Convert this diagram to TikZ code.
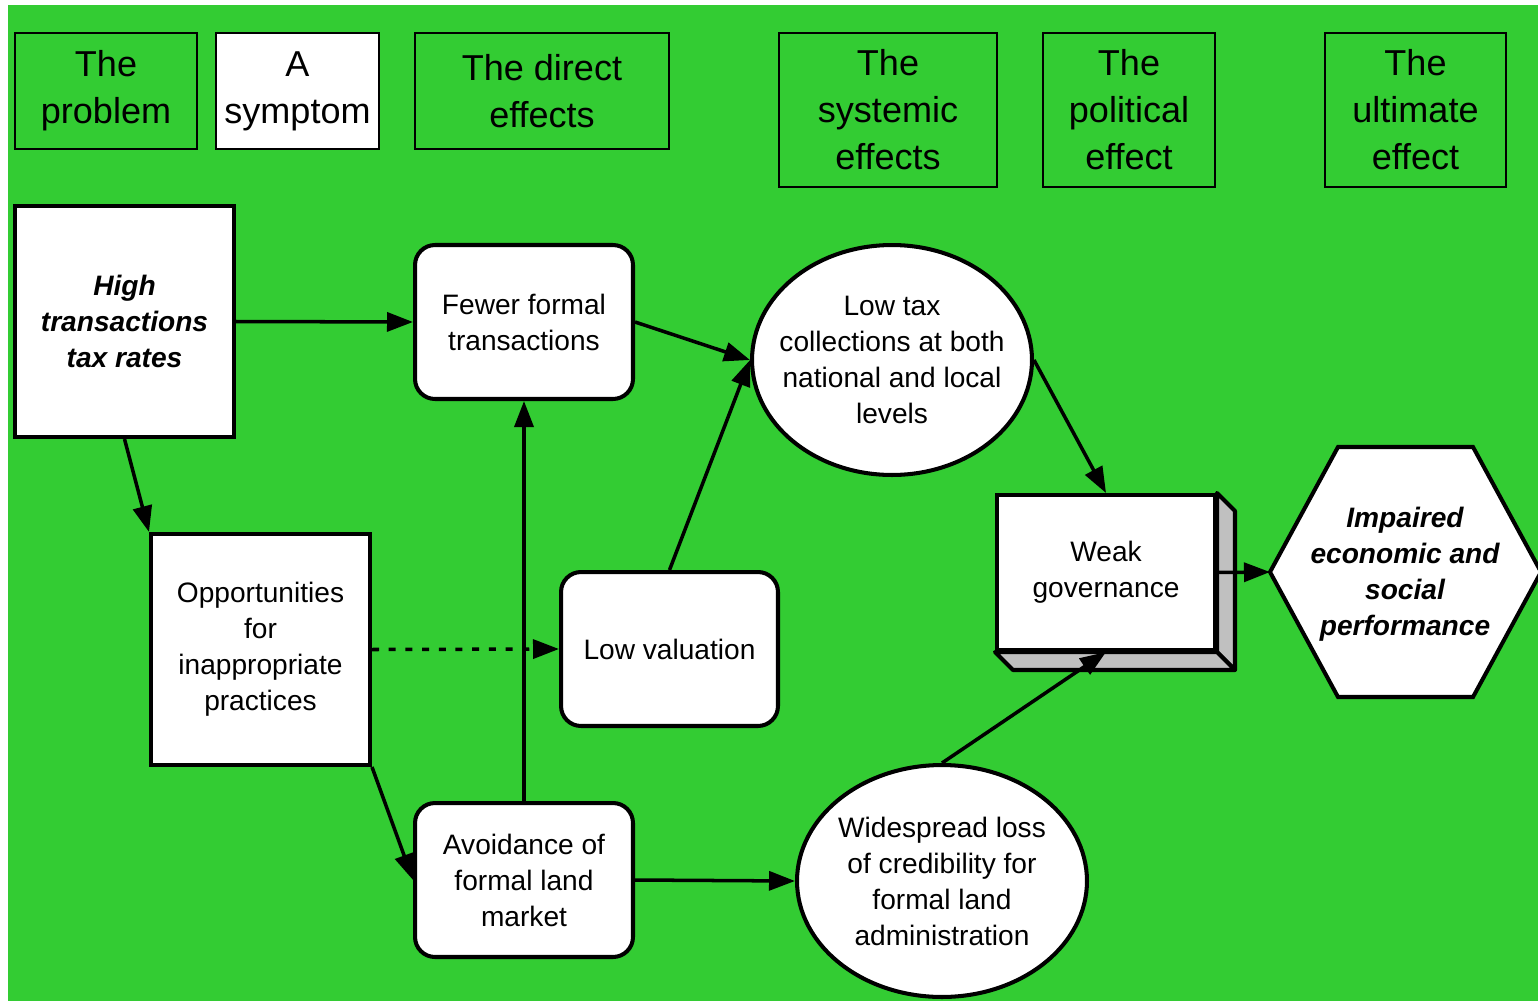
\documentclass[tikz,border=0pt]{standalone}
\usepackage{fontspec}
\setmainfont{Liberation Sans}
\usetikzlibrary{arrows.meta, shapes.geometric, calc}
\definecolor{FieldGreen}{RGB}{51,204,51}
\definecolor{SideGray}{RGB}{192,192,192}
\tikzstyle{arrow} = [line width=2pt, black, -{Triangle[length=0.52cm, width=0.38cm]}]
\tikzstyle{heading} = [rectangle, draw=black, line width=0.7pt, fill=FieldGreen, inner sep=0pt, align=center, font=\fontsize{20.5}{26.7}\selectfont]
\tikzset{
  factor/.style={rectangle, draw=black, line width=2.3pt, fill=white, inner sep=0pt, align=center, font=\fontsize{16}{20.5}\selectfont},
  effect/.style={factor, rounded corners=0.4cm},
  outcome/.style={factor, ellipse, inner xsep=-0.4cm, inner ysep=0pt},
  keytext/.style={font={\fontsize{16}{20.5}\selectfont\bfseries\itshape}},
  sideface/.style={draw=black, line width=2.3pt, fill=SideGray, line join=round}
}

\begin{document}
\begin{tikzpicture}[x=0.02cm, y=-0.02cm]
  \useasboundingbox (0,0) rectangle (1538,1001);
  \fill[FieldGreen] (8,5) rectangle (1538,1001);

  % Column headings
  \node[heading, minimum width=3.64cm, minimum height=2.32cm] (hproblem) at (106,91) {The\\problem};
  \node[heading, fill=white, minimum width=3.26cm, minimum height=2.32cm] (hsymptom) at (297.5,91) {A\\symptom};
  \node[heading, minimum width=5.08cm, minimum height=2.32cm] (hdirect) at (542,91) {The direct\\effects};
  \node[heading, minimum width=4.36cm, minimum height=3.08cm] (hsystemic) at (888,110) {The\\systemic\\effects};
  \node[heading, minimum width=3.44cm, minimum height=3.08cm] (hpolitical) at (1129,110) {The\\political\\effect};
  \node[heading, minimum width=3.62cm, minimum height=3.08cm] (hultimate) at (1415.5,110) {The\\ultimate\\effect};

  % Causes
  \node[factor, keytext, minimum width=4.38cm, minimum height=4.62cm] (high) at (124.5,321.5) {High\\transactions\\tax rates};
  \node[factor, minimum width=4.38cm, minimum height=4.62cm] (opp) at (260.5,649.5) {Opportunities\\for\\inappropriate\\practices};

  % Direct effects
  \node[effect, minimum width=4.36cm, minimum height=3.08cm] (fewer) at (524,322) {Fewer formal\\transactions};
  \node[effect, minimum width=4.34cm, minimum height=3.08cm] (lowval) at (669.5,649) {Low valuation};
  \node[effect, minimum width=4.36cm, minimum height=3.08cm] (avoid) at (524,880) {Avoidance of\\formal land\\market};

  % Systemic effects
  \node[outcome, minimum width=5.6cm, minimum height=4.6cm] (lowtax) at (892,360) {Low tax\\collections at both\\national and local\\levels};
  \node[outcome, minimum width=5.8cm, minimum height=4.64cm] (loss) at (942,881) {Widespread loss\\of credibility for\\formal land\\administration};

  % Political effect (raised box)
  \node[factor, minimum width=4.36cm, minimum height=3.1cm] (weak) at (1106,572.5) {Weak\\governance};
  \draw[sideface] (weak.north east) -- ++(18,18) -- ([shift={(18,18)}]weak.south east) -- (weak.south east) -- cycle;
  \draw[sideface] (weak.south west) -- ++(18,18) -- ([shift={(18,18)}]weak.south east) -- (weak.south east) -- cycle;

  % Ultimate effect
  \coordinate (impairedW) at (1270,572);
  \draw[line width=2.3pt, fill=white] (impairedW) -- (1338,447) -- (1473,447) -- (1541,572) -- (1473,697) -- (1338,697) -- cycle;
  \node[keytext, align=center] (impaired) at (1405,574) {Impaired\\economic and\\social\\performance};

  % Arrows
  \draw[arrow] (high.east) -- (fewer.west);
  \draw[arrow] (high.south) -- (opp.north west);
  \draw[arrow, dash pattern=on 4pt off 5.5pt] (opp.east) -- (lowval.west);
  \draw[arrow] (opp.south east) -- (avoid.west);
  \draw[arrow] (avoid.north) -- (fewer.south);
  \draw[arrow] (fewer.east) -- (lowtax.west);
  \draw[arrow] (lowval.north) -- (lowtax.west);
  \draw[arrow] (avoid.east) -- (loss.west);
  \draw[arrow] (lowtax.east) -- (weak.north);
  \draw[arrow] (loss.north) -- (weak.south);
  \draw[arrow] (weak.east) -- (impairedW);
\end{tikzpicture}
\end{document}
